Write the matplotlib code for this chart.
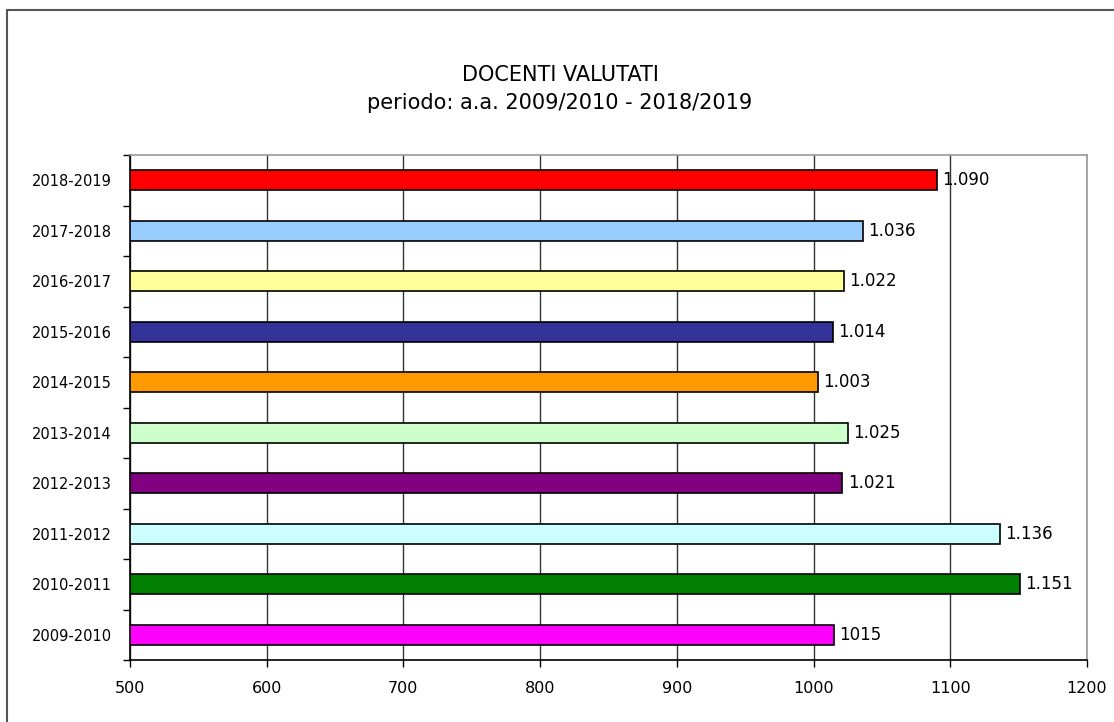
import matplotlib
matplotlib.use("Agg")
import matplotlib.pyplot as plt
from matplotlib.patches import Rectangle

# data, bottom to top
periods = ["2009-2010", "2010-2011", "2011-2012", "2012-2013", "2013-2014",
           "2014-2015", "2015-2016", "2016-2017", "2017-2018", "2018-2019"]
docenti = [1015, 1151, 1136, 1021, 1025, 1003, 1014, 1022, 1036, 1090]
labels = ["1015", "1.151", "1.136", "1.021", "1.025",
          "1.003", "1.014", "1.022", "1.036", "1.090"]
colors = ["#FF00FF", "#008000", "#CCFFFF", "#800080", "#CCFFCC",
          "#FF9900", "#333399", "#FFFF99", "#99CCFF", "#FF0000"]
x_ticks = [500, 600, 700, 800, 900, 1000, 1100, 1200]

W, H = 1114, 722
fig = plt.figure(figsize=(W / 100, H / 100), dpi=100)
plt.rcParams["font.family"] = ["DejaVu Sans"]

# outer chart frame (runs off the right/bottom edge like the original)
fig.patches.append(Rectangle((7 / W, -0.1), 1.2, 1 - 10 / H + 0.1,
                             transform=fig.transFigure, fill=False,
                             edgecolor="#555555", linewidth=1.5))

ax = fig.add_axes([130 / W, 1 - 660 / H, (1087 - 130) / W, (660 - 155) / H])

ypos = list(range(len(periods)))
ax.barh(ypos, [d - 500 for d in docenti], left=500, height=0.4,
        color=colors, edgecolor="black", linewidth=1.2, zorder=3)

for y, d, lab in zip(ypos, docenti, labels):
    ax.text(d + 4, y, lab, va="center", ha="left", fontsize=12, zorder=4)

ax.set_xlim(500, 1200)
ax.set_ylim(-0.5, len(periods) - 0.5)
ax.set_xticks(x_ticks)
ax.set_xticklabels([str(t) for t in x_ticks], fontsize=11.5)
ax.set_yticks(ypos)
ax.set_yticklabels(periods, fontsize=10.5)
ax.set_yticks([y + 0.5 for y in range(-1, len(periods))], minor=True)
ax.tick_params(axis="y", which="major", length=0, pad=13)
ax.tick_params(axis="y", which="minor", length=5, width=1, direction="out")
ax.tick_params(axis="x", length=5, width=1, direction="out", pad=10)

ax.xaxis.grid(True, color="#333333", linewidth=1, zorder=0)
ax.set_axisbelow(True)
for side in ("top", "right"):
    ax.spines[side].set_color("#999999")
    ax.spines[side].set_linewidth(1.2)
for side in ("left", "bottom"):
    ax.spines[side].set_color("black")
    ax.spines[side].set_linewidth(1.2)

fig.text(560 / W, 1 - 75 / H, "DOCENTI VALUTATI", ha="center", va="center",
         fontsize=15)
fig.text(560 / W, 1 - 103 / H, "periodo: a.a. 2009/2010 - 2018/2019",
         ha="center", va="center", fontsize=15)

fig.savefig("out.png", dpi=100)
